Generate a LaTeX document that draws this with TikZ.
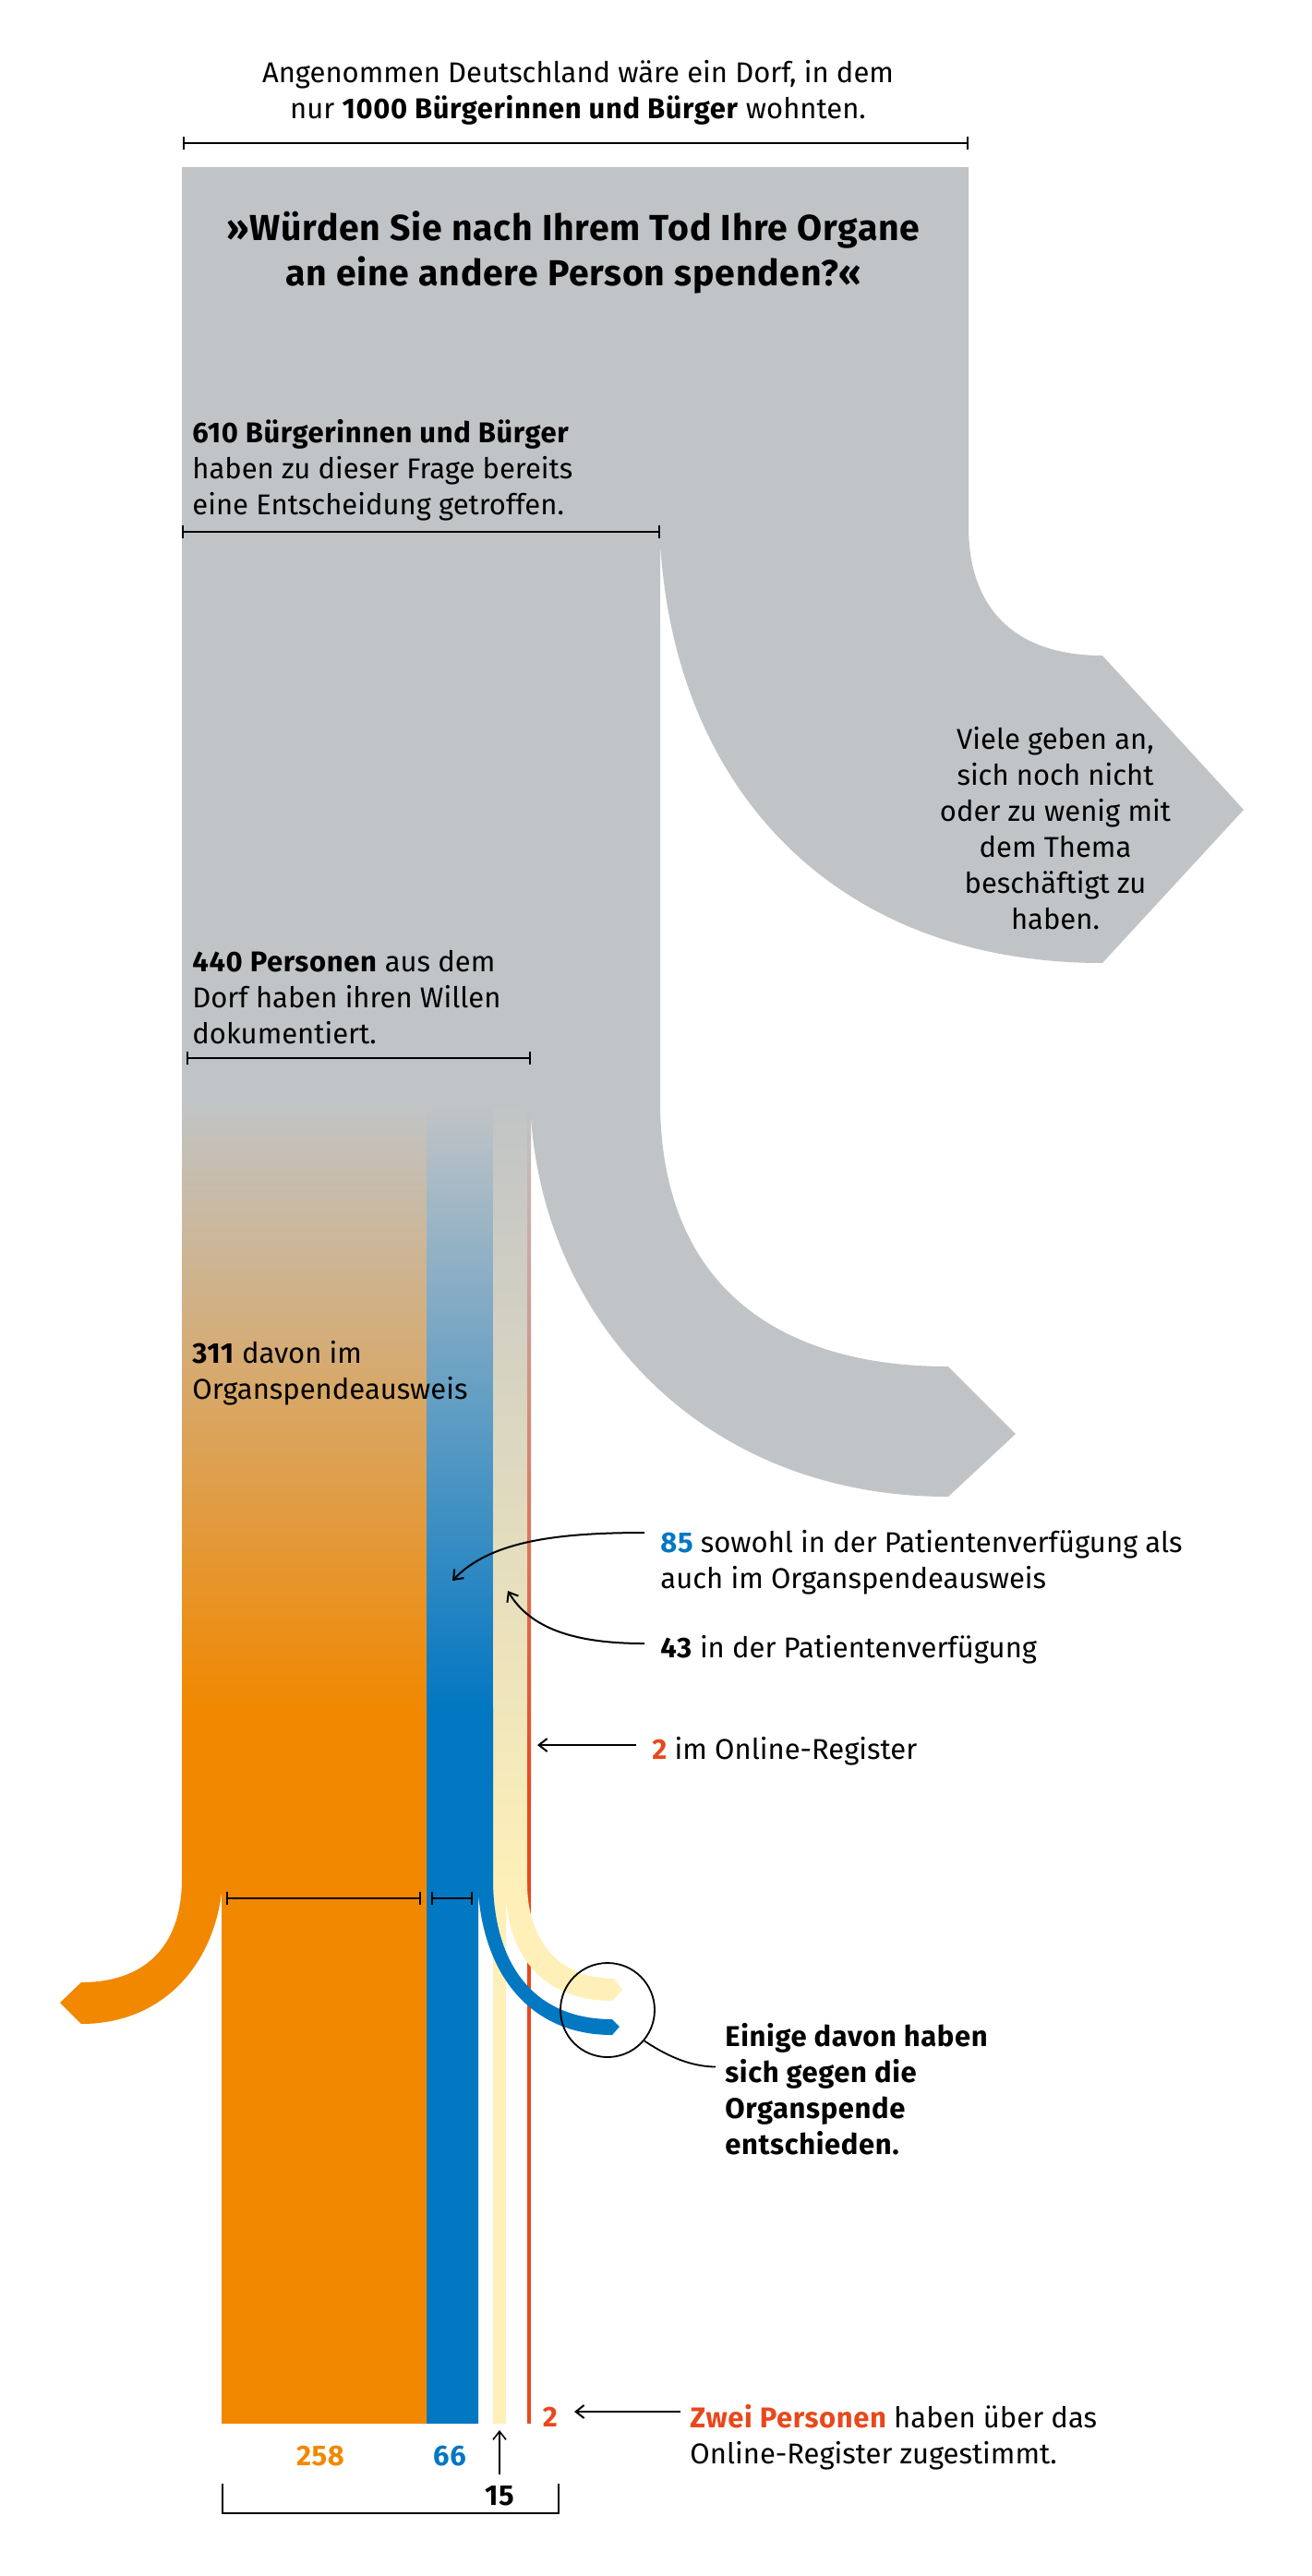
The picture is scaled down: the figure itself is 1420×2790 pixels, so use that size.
\documentclass[tikz,border=0pt]{standalone}
\usepackage{fontspec}
\setmainfont[BoldFeatures={LetterSpace=2}]{Fira Sans}
\usepackage{tikz}
\usetikzlibrary{arrows.meta}

\definecolor{flowgray}{HTML}{C1C4C6}
\definecolor{floworange}{HTML}{F18800}
\definecolor{flowblue}{HTML}{0277C2}
\definecolor{flowcream}{HTML}{FEF0B8}
\definecolor{flowred}{HTML}{E8481C}

\tikzset{
	>={Straight Barb[length=4.5pt,width=7pt]},
	txt/.style={anchor=north west,inner sep=0pt,align=left,font=\fontsize{15.5}{19.5}\selectfont},
	mid/.style={txt,anchor=north,align=center},
	num/.style={anchor=center,inner sep=0pt,font=\fontsize{15.5}{19.5}\selectfont\bfseries},
	span/.style={|-|,line width=1.1pt},
	pointer/.style={->,line width=1pt,shorten <=8.5pt},
}

\begin{document}
\begin{tikzpicture}
	[x=.5pt,y=-.5pt]
	\useasboundingbox (0,0) rectangle (1420,2790);
	
	\fill[flowgray] (197,181) -- (1049,181) -- (1049,570) .. controls (1049,660) and (1100,710) .. (1194,710) -- (1347,877) -- (1194,1043) .. controls (900,1043) and (730,850) .. (715,587) -- (715,1192) .. controls (715,1390) and (840,1480) .. (1027,1480) -- (1100,1553) -- (1027,1621) .. controls (760,1621) and (590,1430) .. (575,1210) -- (575,1195) -- (197,1195) -- cycle;
	
	\fill[top color=flowgray,bottom color=floworange] (197,1195) rectangle (462,1851);
	\fill[top color=flowgray,bottom color=flowblue] (462,1195) rectangle (534,1851);
	\fill[top color=flowgray,bottom color=flowcream] (534,1195) rectangle (571,2041);
	\fill[top color=flowgray,bottom color=flowred] (571,1195) rectangle (575,1950);
	
	\fill[flowred] (571,1949) rectangle (575,2625);
	\fill[flowcream] (534,2040) -- (571,2040) .. controls (571,2095) and (600,2143) .. (665,2143) -- (674,2155) -- (663,2167) .. controls (590,2167) and (551,2120) .. (548,2053) -- (548,2625) -- (534,2625) -- cycle;
	\fill[flowblue] (462,1850) -- (534,1850) -- (534,2040) .. controls (536,2130) and (580,2187) .. (663,2187) -- (671,2195) -- (663,2204) .. controls (575,2204) and (525,2140) .. (518,2050) -- (518,2625) -- (462,2625) -- cycle;
	\fill[floworange] (197,1850) -- (462,1850) -- (462,2625) -- (240,2625) -- (240,2050) .. controls (230,2130) and (175,2192) .. (88,2192) -- (65,2169) -- (88,2147) .. controls (155,2147) and (197,2110) .. (197,2035) -- cycle;
	
	\coordinate (s1) at (198,155);
	\coordinate (s2) at (1049,155);
	\coordinate (s3) at (197,576);
	\coordinate (s4) at (715,576);
	\coordinate (s5) at (202,1146);
	\coordinate (s6) at (575,1146);
	\coordinate (s7) at (245,2056);
	\coordinate (s8) at (456,2056);
	\coordinate (s9) at (467,2056);
	\coordinate (s10) at (512,2056);
	\foreach \from/\to in {s1/s2,s3/s4,s5/s6,s7/s8,s9/s10}
	\draw[span] (\from) -- (\to);
	
	\node (n1) [mid] at (626,65) {Angenommen Deutschland wäre ein Dorf, in dem\\nur \textbf{1000 Bürgerinnen und Bürger} wohnten.};
	\node (n2) [mid,font=\fontsize{19.6}{24.5}\selectfont\bfseries] at (621,228) {»Würden Sie nach Ihrem Tod Ihre Organe\\an eine andere Person spenden?«};
	\node (n3) [txt] at (208,454) {\textbf{610 Bürgerinnen und Bürger}\\haben zu dieser Frage bereits\\eine Entscheidung getroffen.};
	\node (n4) [txt] at (208,1029) {\textbf{440 Personen} aus dem\\Dorf haben ihren Willen\\dokumentiert.};
	\node (n5) [txt] at (208,1452) {\textbf{311} davon im\\Organspendeausweis};
	\node (n6) [mid] at (1143,787) {Viele geben an,\\sich noch nicht\\oder zu wenig mit\\dem Thema\\beschäftigt zu\\haben.};
	\node (n7) [txt] at (715,1657) {\textbf{\textcolor{flowblue}{85}} sowohl in der Patientenverfügung als\\auch im Organspendeausweis};
	\node (n8) [txt] at (715,1771) {\textbf{43} in der Patientenverfügung};
	\node (n9) [txt] at (706,1881) {\textbf{\textcolor{flowred}{2}} im Online-Register};
	\node (n10) [txt,font=\fontsize{15.5}{19.5}\selectfont\bfseries] at (785,2191) {Einige davon haben\\sich gegen die\\Organspende\\entschieden.};
	\node (n11) [txt] at (747,2604) {\textbf{\textcolor{flowred}{Zwei Personen}} haben über das\\Online-Register zugestimmt.};
	\node (n12) [num,text=flowred] at (596,2618) {2};
	\node (n13) [num,text=floworange] at (347,2660) {258};
	\node (n14) [num,text=flowblue] at (487,2660) {66};
	\node (n15) [num] at (541,2703) {15};
	\node (n16) [circle,draw,line width=.9pt,inner sep=0pt,minimum size=51pt] at (658,2177) {};
	
	\coordinate (t1) at (490,1712);
	\coordinate (t2) at (550,1723);
	\coordinate (t3) at (582,1890);
	\coordinate (t4) at (622,2612);
	\coordinate (t5) at (541,2632);
	\coordinate (t6) at (715,1660);
	\coordinate (t7) at (715,1780);
	\coordinate (b1) at (241,2690);
	\coordinate (b2) at (605,2722);
	\coordinate (b3) at (605,2690);
	
	\draw[pointer] (n7.west |- t6) .. controls (600,1660) and (530,1670) .. (t1);
	\draw[pointer] (n8.west |- t7) .. controls (625,1780) and (575,1765) .. (t2);
	\draw[pointer] (n9.west |- t3) -- (t3);
	\draw[->,line width=1pt,shorten <=5pt] (n11.west |- t4) -- (t4);
	\draw[->,line width=.8pt,shorten <=6pt] (n15.north) -- (t5);
	\draw[line width=.9pt] (b1) |- (b2) -- (b3);
	\draw[line width=.9pt,shorten >=5pt] (n16.-40) .. controls (720,2225) and (745,2238) .. ([yshift=12pt]n10.west);
\end{tikzpicture}
\end{document}
